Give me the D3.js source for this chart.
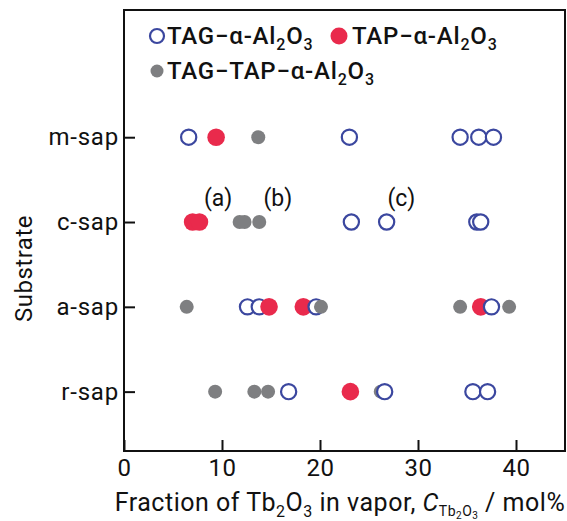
<!DOCTYPE html>
<html>
<head>
<meta charset="utf-8">
<script src="https://cdn.jsdelivr.net/npm/d3@7"></script>
<style>
  body { margin: 0; background: #fff; }
  text { font-family: Roboto, "Noto Sans", sans-serif; fill: #111; }
</style>
</head>
<body>
<svg id="chart" width="567" height="521"></svg>
<script>
// substrates, bottom to top
var substrates = ['r-sap', 'a-sap', 'c-sap', 'm-sap']
var xTicks = [0, 10, 20, 30, 40]

// Tb2O3 fraction (mol%) for each phase, per substrate
var tagOnly = [
  { sub: 'm-sap', x: 6.6 }, { sub: 'm-sap', x: 23.0 }, { sub: 'm-sap', x: 34.3 },
  { sub: 'm-sap', x: 36.2 }, { sub: 'm-sap', x: 37.7 },
  { sub: 'c-sap', x: 23.2 }, { sub: 'c-sap', x: 26.8 }, { sub: 'c-sap', x: 36.0 },
  { sub: 'c-sap', x: 36.4 },
  { sub: 'a-sap', x: 12.6 }, { sub: 'a-sap', x: 13.8 }, { sub: 'a-sap', x: 19.6 },
  { sub: 'a-sap', x: 37.5 },
  { sub: 'r-sap', x: 16.8 }, { sub: 'r-sap', x: 26.6 }, { sub: 'r-sap', x: 35.6 },
  { sub: 'r-sap', x: 37.1 }
]
var tapOnly = [
  { sub: 'm-sap', x: 9.4 },
  { sub: 'c-sap', x: 7.0 }, { sub: 'c-sap', x: 7.7 },
  { sub: 'a-sap', x: 14.8 }, { sub: 'a-sap', x: 18.3 }, { sub: 'a-sap', x: 36.4 },
  { sub: 'r-sap', x: 23.1 }
]
var tagTap = [
  { sub: 'm-sap', x: 13.7 },
  { sub: 'c-sap', x: 11.8 }, { sub: 'c-sap', x: 12.3 }, { sub: 'c-sap', x: 13.8 },
  { sub: 'a-sap', x: 6.4 }, { sub: 'a-sap', x: 20.1 }, { sub: 'a-sap', x: 34.3 },
  { sub: 'a-sap', x: 39.3 },
  { sub: 'r-sap', x: 9.3 }, { sub: 'r-sap', x: 13.3 }, { sub: 'r-sap', x: 14.7 },
  { sub: 'r-sap', x: 26.2 }
]
var notes = [{ sub: 'c-sap', x: 9.6, label: '(a)' }, { sub: 'c-sap', x: 15.7, label: '(b)' },
  { sub: 'c-sap', x: 28.3, label: '(c)' }]

var blue = '#3b479f', red = '#e92a4c', grey = '#7e7f81'

var svg = d3.select('#chart')
var mLeft = 124, mRight = 565, mTop = 10, mBottom = 451

var xScale = d3.scaleLinear().domain([0, 45]).range([mLeft, mRight])
var yScale = d3.scaleLinear().domain([0.3, 5.5]).range([mBottom, mTop])
var yOf = s => yScale(substrates.indexOf(s) + 1)

// frame
svg.append('rect').attr('x', mLeft).attr('y', mTop)
  .attr('width', mRight - mLeft).attr('height', mBottom - mTop)
  .attr('fill', 'none').attr('stroke', '#111').attr('stroke-width', 2)

var xAxis = d3.axisBottom(xScale).tickValues(xTicks).tickSizeInner(-11).tickSizeOuter(0).tickPadding(8)
svg.append('g').attr('class', 'xax').attr('transform', 'translate(0,' + mBottom + ')').call(xAxis)

var yAxis = d3.axisLeft(yScale).tickValues([1, 2, 3, 4]).tickFormat(d => substrates[d - 1])
  .tickSizeInner(-11).tickSizeOuter(0).tickPadding(5)
svg.append('g').attr('class', 'yax').attr('transform', 'translate(' + mLeft + ',0)').call(yAxis)

svg.selectAll('.domain').remove()
svg.selectAll('.tick line').attr('stroke', '#111').attr('stroke-width', 2)
svg.selectAll('.tick text').attr('fill', '#111')
svg.selectAll('.xax .tick text').style('font-size', '24px').style('letter-spacing', '0.5px')
svg.selectAll('.yax .tick text').style('font-size', '24px').style('letter-spacing', '0.8px')

// all points, drawn left to right within each row so later ones sit on top
var pts = []
tagOnly.forEach(d => pts.push({ sub: d.sub, x: d.x, kind: 'tag' }))
tapOnly.forEach(d => pts.push({ sub: d.sub, x: d.x, kind: 'tap' }))
tagTap.forEach(d => pts.push({ sub: d.sub, x: d.x, kind: 'both' }))
pts.sort((a, b) => a.x - b.x)

svg.append('g').selectAll('circle').data(pts).enter().append('circle')
  .attr('cx', d => xScale(d.x)).attr('cy', d => yOf(d.sub))
  .attr('r', d => d.kind == 'tag' ? 7.6 : d.kind == 'tap' ? 8.8 : 7)
  .attr('fill', d => d.kind == 'tag' ? '#fff' : d.kind == 'tap' ? red : grey)
  .attr('stroke', d => d.kind == 'tag' ? blue : 'none')
  .attr('stroke-width', 2.2)

svg.append('g').selectAll('text').data(notes).enter().append('text')
  .attr('x', d => xScale(d.x)).attr('y', d => yOf(d.sub) - 16)
  .attr('text-anchor', 'middle').style('font-size', '23px').text(d => d.label)

// legend
function al2o3(t, prefix) {
  t.append('tspan').text(prefix + '\u03b1-Al')
  t.append('tspan').attr('dy', 6).style('font-size', '16px').text('2')
  t.append('tspan').attr('dy', -6).text('O')
  t.append('tspan').attr('dy', 6).style('font-size', '16px').text('3')
}
var lg = svg.append('g').style('font-size', '24px').style('font-weight', 500).style('letter-spacing', '0.8px')
lg.append('circle').attr('cx', 157).attr('cy', 36).attr('r', 7)
  .attr('fill', '#fff').attr('stroke', blue).attr('stroke-width', 2.2)
al2o3(lg.append('text').attr('x', 167).attr('y', 44), 'TAG\u2212')
lg.append('circle').attr('cx', 339).attr('cy', 36).attr('r', 8.5).attr('fill', red)
al2o3(lg.append('text').attr('x', 352).attr('y', 44), 'TAP\u2212')
lg.append('circle').attr('cx', 157).attr('cy', 71).attr('r', 6.5).attr('fill', grey)
al2o3(lg.append('text').attr('x', 167).attr('y', 79), 'TAG\u2212TAP\u2212')

// axis titles
svg.append('text').attr('transform', 'translate(32,' + ((mTop + mBottom) / 2 + 38) + ') rotate(-90)')
  .attr('text-anchor', 'middle').style('font-size', '24px').style('letter-spacing', '0.5px').text('Substrate')

var xt = svg.append('text').attr('x', 340).attr('y', 511).attr('text-anchor', 'middle')
  .style('font-size', '25px').style('letter-spacing', '0.5px')
xt.append('tspan').text('Fraction of Tb')
xt.append('tspan').attr('dy', 6).style('font-size', '16px').text('2')
xt.append('tspan').attr('dy', -6).text('O')
xt.append('tspan').attr('dy', 6).style('font-size', '16px').text('3')
xt.append('tspan').attr('dy', -6).text(' in vapor, ')
xt.append('tspan').style('font-style', 'italic').text('C')
xt.append('tspan').attr('dy', 5).style('font-size', '14px').text('Tb')
xt.append('tspan').attr('dy', 3).style('font-size', '10px').text('2')
xt.append('tspan').attr('dy', -3).style('font-size', '14px').text('O')
xt.append('tspan').attr('dy', 3).style('font-size', '10px').text('3')
xt.append('tspan').attr('dy', -8).text(' / mol%')
</script>
</body>
</html>
